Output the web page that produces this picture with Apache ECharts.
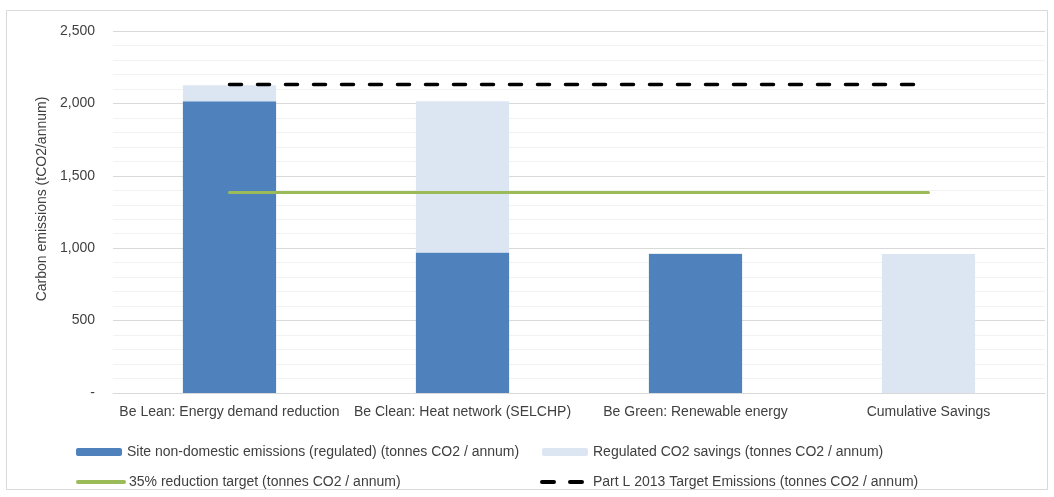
<!DOCTYPE html>
<html>
<head>
<meta charset="utf-8">
<script src="https://cdn.jsdelivr.net/npm/echarts@6/dist/echarts.min.js"></script>
<style>
  html, body { margin: 0; padding: 0; background: #fff; }
  #chart { width: 1054px; height: 497px; }
</style>
</head>
<body>
<div id="chart"></div>
<script>
// Carbon emissions by stage of the energy hierarchy (tCO2/annum)
const categories = [
  'Be Lean: Energy demand reduction',
  'Be Clean: Heat network (SELCHP)',
  'Be Green: Renewable energy',
  'Cumulative Savings'
];
const siteEmissions = [2015, 970, 960, 0];
const regulatedSavings = [110, 1045, 5, 960];
const reductionTarget = [1384, 1384, 1384, 1384];
const partLTarget = [2130, 2130, 2130, 2130];
const yTickLabels = ['-', '500', '1,000', '1,500', '2,000', '2,500'];

const seriesNames = [
  'Site non-domestic emissions (regulated) (tonnes CO2 / annum)',
  'Regulated CO2 savings (tonnes CO2 / annum)',
  '35% reduction target (tonnes CO2 / annum)',
  'Part L 2013 Target Emissions (tonnes CO2 / annum)'
];

const font = "'Liberation Sans', Arial, sans-serif";
const fontSize = 14;
const textColor = '#404040';

// one legend box per entry so the two columns line up
function legendAt(name, left, top, isLine) {
  const lg = {
    data: [name],
    left: left,
    top: top,
    padding: 0,
    itemWidth: 46,
    itemHeight: 8,
    itemGap: 5,
    selectedMode: false,
    textStyle: { fontFamily: font, fontSize: fontSize, color: textColor }
  };
  if (isLine) {
    lg.itemStyle = { opacity: 0 };
    lg.lineStyle = { width: 4 };
  }
  return lg;
}

const chart = echarts.init(document.getElementById('chart'), null, { renderer: 'canvas' });
chart.setOption({
  animation: false,
  backgroundColor: '#fff',
  graphic: [{
    type: 'rect',
    shape: { x: 6.5, y: 10.5, width: 1041, height: 479 },
    style: { fill: 'none', stroke: '#d9d9d9', lineWidth: 1 },
    silent: true,
    z: -1
  }],
  grid: { left: 113, right: 9, top: 31, bottom: 104 },
  legend: [
    legendAt(seriesNames[0], 76, 445, false),
    legendAt(seriesNames[1], 542, 445, false),
    legendAt(seriesNames[2], 76, 475, true),
    legendAt(seriesNames[3], 540, 475, true)
  ],
  xAxis: {
    type: 'category',
    data: categories,
    axisLine: { show: true, lineStyle: { color: '#d9d9d9' } },
    axisTick: { show: false },
    axisLabel: { interval: 0, fontFamily: font, fontSize: fontSize, color: textColor, margin: 12 }
  },
  yAxis: {
    type: 'value',
    min: 0,
    max: 2500,
    interval: 500,
    name: 'Carbon emissions (tCO2/annum)',
    nameLocation: 'middle',
    nameGap: 64,
    nameTextStyle: { fontFamily: font, fontSize: fontSize, color: textColor, padding: [0, 0, 0, 26] },
    axisLine: { show: false },
    axisTick: { show: false },
    axisLabel: {
      fontFamily: font, fontSize: fontSize, color: textColor, margin: 18,
      formatter: function (v) { return yTickLabels[Math.round(v / 500)]; }
    },
    splitLine: { lineStyle: { color: '#d9d9d9', width: 1 } },
    minorTick: { show: false, splitNumber: 5 },
    minorSplitLine: { show: true, lineStyle: { color: '#f2f2f2', width: 1 } }
  },
  series: [
    {
      name: seriesNames[0],
      type: 'bar',
      stack: 'total',
      data: siteEmissions,
      barCategoryGap: '60%',
      itemStyle: { color: '#4f81bd' }
    },
    {
      name: seriesNames[1],
      type: 'bar',
      stack: 'total',
      data: regulatedSavings,
      barCategoryGap: '60%',
      itemStyle: { color: '#dce6f2' }
    },
    {
      name: seriesNames[2],
      type: 'line',
      data: reductionTarget,
      symbol: 'none',
      z: 5,
      lineStyle: { color: '#9bbb59', width: 3, cap: 'round' },
      itemStyle: { color: '#9bbb59' }
    },
    {
      name: seriesNames[3],
      type: 'line',
      data: partLTarget,
      symbol: 'none',
      z: 6,
      lineStyle: { color: '#000000', width: 3.5, type: [12, 16], cap: 'round' },
      itemStyle: { color: '#000000' }
    }
  ]
});
</script>
</body>
</html>
